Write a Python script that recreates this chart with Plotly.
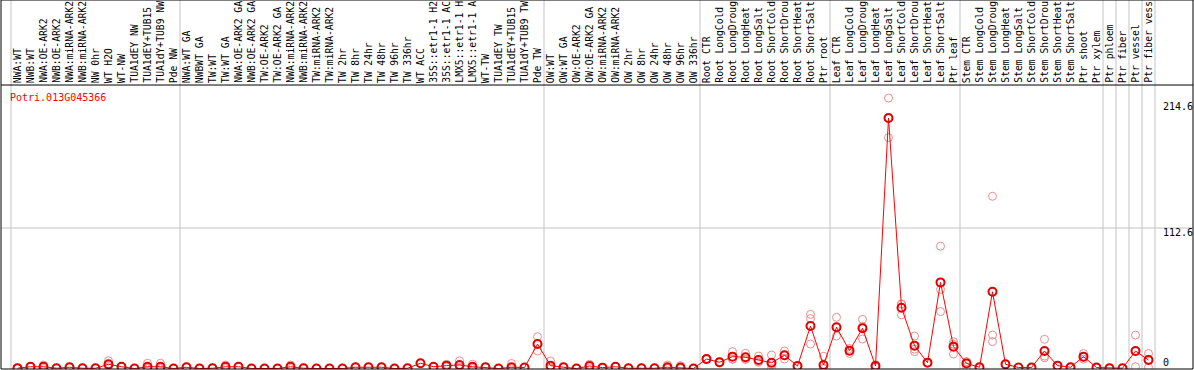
import plotly.graph_objects as go

samples = [
    "NWA:WT", "NWB:WT", "NWA:OE-ARK2", "NWB:OE-ARK2", "NWA:miRNA-ARK2", "NWB:miRNA-ARK2",
    "NW 0hr", "WT H2O", "WT-NW", "TUA1dEY NW", "TUA1dEY+TUB15", "TUA1dY+TUB9 NW", "Pde NW",
    "NWA:WT GA", "NWBWT GA", "TW:WT", "TW:WT GA", "NWA:OE-ARK2 GA", "NWB:OE-ARK2 GA",
    "TW:OE-ARK2", "TW:OE-ARK2 GA", "NWA:miRNA-ARK2", "NWB:miRNA-ARK2", "TW:miRNA-ARK2",
    "TW:miRNA-ARK2", "TW 2hr", "TW 8hr", "TW 24hr", "TW 48hr", "TW 96hr", "TW 336hr",
    "WT ACC", "35S::etr1-1 H2", "35S::etr1-1 AC", "LMX5::etr1-1 H", "LMX5::etr1-1 A",
    "WT-TW", "TUA1dEY TW", "TUA1dEY+TUB15", "TUA1dY+TUB9 TW", "Pde TW",
    "OW:WT", "OW:WT GA", "OW:OE-ARK2", "OW:OE-ARK2 GA", "OW:miRNA-ARK2", "OW:miRNA-ARK2",
    "OW 2hr", "OW 8hr", "OW 24hr", "OW 48hr", "OW 96hr", "OW 336hr",
    "Root CTR", "Root LongCold", "Root LongDroug", "Root LongHeat", "Root LongSalt",
    "Root ShortCold", "Root ShortDrou", "Root ShortHeat", "Root ShortSalt", "Ptr root",
    "Leaf CTR", "Leaf LongCold", "Leaf LongDroug", "Leaf LongHeat", "Leaf LongSalt",
    "Leaf ShortCold", "Leaf ShortDrou", "Leaf ShortHeat", "Leaf ShortSalt", "Ptr leaf",
    "Stem CTR", "Stem LongCold", "Stem LongDroug", "Stem LongHeat", "Stem LongSalt",
    "Stem ShortCold", "Stem ShortDrou", "Stem ShortHeat", "Stem ShortSalt", "Ptr shoot",
    "Ptr xylem", "Ptr phloem", "Ptr fiber", "Ptr vessel", "Ptr fiber vess",
]

mean_expr = [
    0.3, 1.4, 1.4, 0.2, 1.0, 0.2, 0.2, 3.4, 1.4, 0.0,
    1.4, 1.4, 0.0, 1.0, 0.0, 0.2, 1.4, 1.4, 0.0, 0.0,
    0.0, 1.4, 0.2, 0.0, 0.0, 0.0, 1.0, 1.0, 1.0, 0.0,
    0.2, 4.2, 1.4, 2.3, 2.8, 1.4, 1.0, 0.0, 1.0, 0.8,
    19.6, 2.3, 1.0, 0.0, 2.0, 0.7, 1.4, 0.2, 0.2, 0.2,
    1.0, 0.8, 0.0, 7.6, 5.0, 9.5, 9.0, 6.8, 4.6, 10.6,
    2.0, 34.0, 2.8, 33.0, 14.3, 32.2, 2.0, 200.7, 48.7, 18.3,
    4.7, 69.0, 17.5, 4.1, 1.0, 61.5, 3.4, 0.8, 0.8, 14.0,
    2.3, 1.0, 9.5, 0.8, 0.2, 0.2, 14.0, 6.8,
]

rep1 = [
    0.3, 1.4, 2.8, 0.2, 1.0, 0.2, 0.2, 6.2, 1.4, 0.0,
    4.2, 4.2, 0.0, 1.0, 0.0, 0.2, 2.8, 1.4, 0.0, 0.0,
    0.0, 2.8, 0.2, 0.0, 0.0, 0.0, 1.0, 1.0, 1.0, 0.0,
    0.2, 4.2, 1.4, 3.4, 6.2, 3.4, 1.0, 0.0, 4.0, 0.8,
    25.5, 6.0, 1.0, 0.0, 3.4, 0.7, 1.4, 0.2, 0.2, 0.2,
    2.8, 2.3, 0.0, 8.0, 5.5, 13.5, 12.2, 10.0, 10.8, 14.0,
    2.0, 43.4, 9.8, 41.0, 16.0, 39.4, 3.0, 216.7, 51.4, 26.0,
    4.7, 98.0, 21.5, 5.4, 1.0, 138.0, 3.4, 0.8, 0.8, 23.4,
    2.3, 1.0, 12.0, 0.8, 0.2, 0.2, 26.8, 12.0,
]

rep2 = [
    0.3, 1.4, 1.4, 0.2, 1.0, 0.2, 0.2, 2.5, 1.4, 0.0,
    0.0, 0.0, 0.0, 1.0, 0.0, 0.2, 1.4, 1.4, 0.0, 0.0,
    0.0, 1.4, 0.2, 0.0, 0.0, 0.0, 1.0, 1.0, 1.0, 0.0,
    0.2, 4.2, 1.4, 2.3, 1.5, 0.8, 1.0, 0.0, 0.0, 0.8,
    19.6, 1.0, 1.0, 0.0, 2.0, 0.7, 1.4, 0.2, 0.2, 0.2,
    0.2, 0.0, 0.0, 7.6, 4.6, 7.4, 7.4, 5.4, 3.0, 10.3,
    2.0, 40.0, 0.0, 33.0, 14.3, 33.5, 2.0, 200.4, 51.8, 15.5,
    4.7, 63.4, 19.4, 5.4, 1.0, 26.8, 3.4, 0.8, 0.8, 10.0,
    2.3, 1.0, 9.0, 0.8, 0.2, 0.2, 13.8, 7.4,
]

rep3 = [
    0.3, 1.4, 0.0, 0.2, 1.0, 0.2, 0.2, 1.5, 1.4, 0.0,
    0.0, 0.0, 0.0, 1.0, 0.0, 0.2, 0.0, 1.4, 0.0, 0.0,
    0.0, 0.0, 0.2, 0.0, 0.0, 0.0, 1.0, 1.0, 1.0, 0.0,
    0.2, 4.2, 1.4, 1.2, 0.7, 0.0, 1.0, 0.0, 0.0, 0.8,
    14.0, 0.0, 1.0, 0.0, 0.6, 0.7, 1.4, 0.2, 0.2, 0.2,
    0.0, 0.0, 0.0, 7.2, 5.0, 7.6, 7.4, 5.0, 0.0, 7.6,
    2.0, 19.6, 0.0, 26.0, 12.0, 23.6, 1.0, 185.0, 42.9, 13.5,
    4.7, 45.6, 11.6, 1.4, 1.0, 21.5, 3.4, 0.8, 0.8, 8.6,
    2.3, 1.0, 7.5, 0.8, 0.2, 0.2, 1.4, 1.0,
]

gene_id = "Potri.013G045366"
y_ticks = [0, 112.6, 214.6]
y_tick_text = ["0", "112.6", "214.6"]
group_starts = [0, 13, 41, 53, 63, 73, 84, 85, 86, 87, 88]

FONT = "DejaVu Sans Mono"
idx = list(range(len(samples)))

fig = go.Figure()
for reps in (rep1, rep2, rep3):
    fig.add_trace(go.Scatter(
        x=idx, y=reps, mode="markers",
        marker=dict(symbol="circle-open", size=8, color="#f08c8c", line=dict(width=1, color="#f08c8c")),
        showlegend=False, hoverinfo="skip",
    ))
fig.add_trace(go.Scatter(
    x=idx, y=mean_expr, mode="lines+markers",
    line=dict(color="#ff0000", width=1),
    marker=dict(symbol="circle-open", size=8, color="#e00000", line=dict(width=2, color="#e00000")),
    showlegend=False, text=samples,
))

shapes = []
for k in group_starts:
    shapes.append(dict(type="line", xref="x", yref="paper", x0=k - 0.5, x1=k - 0.5, y0=0, y1=1,
                       line=dict(color="#c4c4c4", width=1), layer="below"))
shapes.append(dict(type="line", xref="paper", yref="y", x0=0, x1=1, y0=y_ticks[1], y1=y_ticks[1],
                   line=dict(color="#c4c4c4", width=1), layer="below"))
# separator between label band and plot
shapes.append(dict(type="line", xref="paper", yref="paper", x0=0, x1=1, y0=0.7696, y1=0.7696,
                   line=dict(color="black", width=1), layer="above"))
shapes.append(dict(type="rect", xref="paper", yref="paper", x0=0, x1=1, y0=0, y1=1,
                   line=dict(color="black", width=1), layer="above"))

annotations = []
for i, s in enumerate(samples):
    annotations.append(dict(x=i, y=0.7720, xref="x", yref="paper", text=s, showarrow=False,
                            textangle=-90, xanchor="center", yanchor="bottom", borderpad=0,
                            font=dict(family=FONT, size=9.7, color="black")))
annotations.append(dict(x=0.006, y=0.735, xref="paper", yref="paper", text=gene_id, showarrow=False,
                        xanchor="left", yanchor="middle", font=dict(family=FONT, size=10, color="#ff0000")))
tick_shift = [6.5, -5.0, -6.0]
for v, t, sh in zip(y_ticks, y_tick_text, tick_shift):
    annotations.append(dict(x=0.974, y=v, xref="paper", yref="y", text=t, showarrow=False,
                            xanchor="left", yanchor="middle", yshift=sh, borderpad=0,
                            font=dict(family=FONT, size=10, color="black")))

fig.update_layout(
    width=1194, height=370,
    margin=dict(l=1, r=1, t=0, b=1, pad=0),
    paper_bgcolor="white", plot_bgcolor="white",
    xaxis=dict(range=[-1.2692, 90.423], showgrid=False, zeroline=False, showticklabels=False,
               showline=False, ticks=""),
    yaxis=dict(range=[-0.4, 295.27], showgrid=False, zeroline=False, showticklabels=False,
               showline=False, ticks=""),
    shapes=shapes, annotations=annotations,
)

fig.write_html("out.html", config={"displayModeBar": False},
               post_script="document.body.style.margin='0';document.body.style.overflow='hidden';")
